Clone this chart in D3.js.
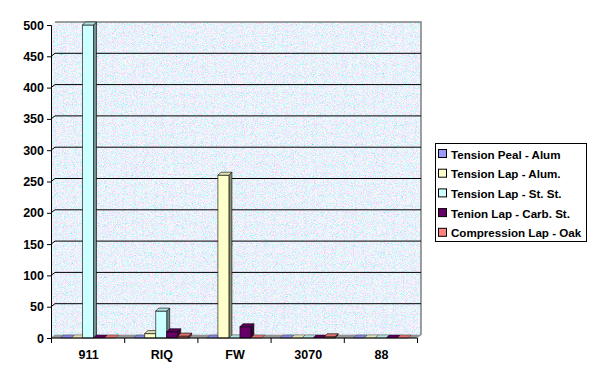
<!DOCTYPE html>
<html>
<head>
<meta charset="utf-8">
<script src="https://cdn.jsdelivr.net/npm/d3@7"></script>
<style>
  body { margin: 0; background: #fff; }
  svg { display: block; font-family: Arial, "Liberation Sans", sans-serif; }
</style>
</head>
<body>
<svg id="chart" width="600" height="381"></svg>
<script>
// data
const categories = ["911", "RIQ", "FW", "3070", "88"];
const seriesNames = [
  "Tension Peal - Alum",
  "Tension Lap - Alum.",
  "Tension Lap - St. St.",
  "Tenion Lap - Carb. St.",
  "Compression Lap - Oak",
];
const tensionPealAlum = [0, 0, 0, 0, 0];
const tensionLapAlum = [0, 7, 260, 0, 0];
const tensionLapStSt = [500, 43, 0, 0, 0];
const tenionLapCarbSt = [0, 10, 18, 0, 0];
const compressionLapOak = [0, 3, 0, 2, 0];
const yTicks = [0, 50, 100, 150, 200, 250, 300, 350, 400, 450, 500];

const seriesValues = [tensionPealAlum, tensionLapAlum, tensionLapStSt, tenionLapCarbSt, compressionLapOak];
const colors = ["#9999ff", "#ffffcc", "#ccffff", "#660066", "#ff8080"];

const svg = d3.select("#chart");
const defs = svg.append("defs");

// speckled wall texture
const f = defs.append("filter").attr("id", "tex")
  .attr("x", 0).attr("y", 0).attr("width", 1).attr("height", 1);
f.append("feTurbulence").attr("type", "fractalNoise").attr("baseFrequency", 1.1)
  .attr("numOctaves", 2).attr("seed", 7).attr("result", "n");
f.append("feColorMatrix").attr("in", "n").attr("type", "matrix").attr("result", "c")
  .attr("values", "1.6 -1.0 0 0 0.55  0 1.1 0 0 0.34  0 0 0.6 0 0.67  0 0 0 0 1");
f.append("feComposite").attr("in", "c").attr("in2", "SourceGraphic").attr("operator", "in");

const y = d3.scaleLinear().domain([0, 500]).range([338, 25]);
const x0 = d3.scaleBand().domain(categories).range([52, 418]);
const x1 = d3.scaleBand().domain(seriesNames).range([8.5, 63.5]);

const wdx = 4, wdy = 3; // wall depth
const bdx = 3, bdy = 3; // bar depth
const xLeft = x0.range()[0] - 1, xRight = x0.range()[1] - 1;
const yTop = y(500), yBase = y(0);

// walls
const walls = svg.append("g");
walls.append("polygon")
  .attr("points", [[xLeft + wdx, yTop - wdy], [xRight + wdx, yTop - wdy], [xRight + wdx, yBase - wdy], [xLeft + wdx, yBase - wdy]].join(" "))
  .attr("fill", "#dbe6fa").attr("filter", "url(#tex)");
walls.append("polygon")
  .attr("points", [[xLeft, yTop], [xLeft + wdx, yTop - wdy], [xLeft + wdx, yBase - wdy], [xLeft, yBase]].join(" "))
  .attr("fill", "#dbe6fa").attr("filter", "url(#tex)");
walls.append("polyline")
  .attr("points", [[xLeft + wdx, yTop - wdy], [xRight + wdx, yTop - wdy], [xRight + wdx, yBase - wdy]].join(" "))
  .attr("fill", "none").attr("stroke", "#808080").attr("stroke-width", 1.5);

// gridlines on left and back wall
const grid = svg.append("g").attr("stroke", "#000").attr("stroke-width", 1).attr("fill", "none");
yTicks.filter((t) => t > 0 && t < 500).forEach((t) => {
  grid.append("polyline")
    .attr("points", [[xLeft, y(t)], [xLeft + wdx, y(t) - wdy], [xRight + wdx, y(t) - wdy]].join(" "));
});

// floor
svg.append("polygon")
  .attr("points", [[xLeft, yBase], [xLeft + wdx, yBase - wdy], [xRight + wdx, yBase - wdy], [xRight, yBase]].join(" "))
  .attr("fill", "#999999").attr("stroke", "#808080").attr("stroke-width", 0.5);

// bars
const bars = svg.append("g").attr("stroke", "#000").attr("stroke-width", 0.6).attr("stroke-linejoin", "round");
categories.forEach((cat, ci) => {
  seriesNames.forEach((name, si) => {
    const v = seriesValues[si][ci];
    const c = colors[si];
    const bx = x0(cat) + x1(name);
    const bw = x1.bandwidth();
    const yv = y(v), y0 = y(0);
    if (v > 0) {
      bars.append("polygon")
        .attr("points", [[bx + bw, yv], [bx + bw + bdx, yv - bdy], [bx + bw + bdx, y0 - bdy], [bx + bw, y0]].join(" "))
        .attr("fill", d3.color(c).darker(1.6));
      bars.append("rect")
        .attr("x", bx).attr("y", yv).attr("width", bw).attr("height", y0 - yv)
        .attr("fill", c);
    }
    bars.append("polygon")
      .attr("points", [[bx, yv], [bx + bdx, yv - bdy], [bx + bw + bdx, yv - bdy], [bx + bw, yv]].join(" "))
      .attr("fill", d3.color(c).darker(0.35))
      .attr("stroke-width", v > 0 ? 0.6 : 0.3);
  });
});

// axes
const yAxis = svg.append("g")
  .attr("transform", `translate(${xLeft},0)`)
  .call(d3.axisLeft(y).tickValues(yTicks).tickSize(4).tickPadding(3));
yAxis.select(".domain").attr("stroke", "#000");
yAxis.selectAll("text").attr("font-size", 12.5).attr("font-weight", "bold").attr("fill", "#000")
  .attr("font-family", "Arial, 'Liberation Sans', sans-serif");

const xAxis = svg.append("g").attr("transform", `translate(0,${yBase})`);
xAxis.append("line").attr("x1", xLeft).attr("x2", xRight).attr("stroke", "#000");
xAxis.selectAll("line.tk").data(categories.concat([null])).enter().append("line")
  .attr("class", "tk")
  .attr("x1", (d) => (d ? x0(d) : x0.range()[1]) - 0.5)
  .attr("x2", (d) => (d ? x0(d) : x0.range()[1]) - 0.5)
  .attr("y1", 0).attr("y2", 5).attr("stroke", "#000");
xAxis.selectAll("text").data(categories).enter().append("text")
  .attr("x", (d) => x0(d) + x0.bandwidth() / 2)
  .attr("y", 21)
  .attr("text-anchor", "middle")
  .attr("font-size", 12.5).attr("font-weight", "bold")
  .text((d) => d);

// legend
const lg = svg.append("g");
lg.append("rect").attr("x", 435.5).attr("y", 143.5).attr("width", 151).attr("height", 98)
  .attr("fill", "#fff").attr("stroke", "#000");
const item = lg.selectAll("g.item").data(seriesNames).enter().append("g")
  .attr("class", "item")
  .attr("transform", (d, i) => `translate(0,${154 + i * 19.7})`);
item.append("rect").attr("x", 438.5).attr("y", -4.5).attr("width", 8).attr("height", 8)
  .attr("fill", (d, i) => colors[i]).attr("stroke", "#000");
item.append("text").attr("x", 451).attr("y", 4.5)
  .attr("font-size", 11.6).attr("font-weight", "bold")
  .text((d) => d);
</script>
</body>
</html>
